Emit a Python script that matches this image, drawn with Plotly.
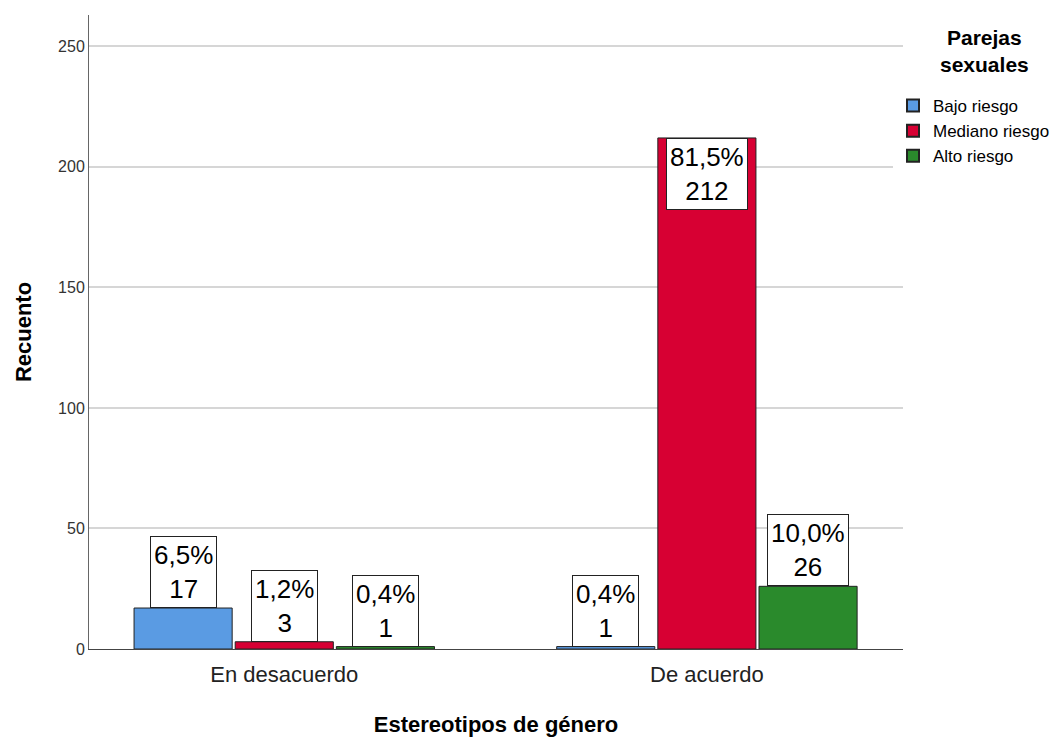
import plotly.graph_objects as go

categories = ["En desacuerdo", "De acuerdo"]
series_names = ["Bajo riesgo", "Mediano riesgo", "Alto riesgo"]
counts = {
    "Bajo riesgo": [17, 1],
    "Mediano riesgo": [3, 212],
    "Alto riesgo": [1, 26],
}
percents = {
    "Bajo riesgo": ["6,5%", "0,4%"],
    "Mediano riesgo": ["1,2%", "81,5%"],
    "Alto riesgo": ["0,4%", "10,0%"],
}
colors = {
    "Bajo riesgo": "#5A9BE3",
    "Mediano riesgo": "#D70033",
    "Alto riesgo": "#2A8A2C",
}
y_ticks = [0, 50, 100, 150, 200, 250]
legend_title = "Parejas<br>sexuales"

FONT = "Liberation Sans, Arial, sans-serif"
W, H = 1059, 738
ML, MR, MT, MB = 89, 156, 15, 89
PW, PH = W - ML - MR, H - MT - MB


def px_to_paper_x(px):
    return (px - ML) / PW


def px_to_paper_y(py):
    return (H - MB - py) / PH


bargap = 0.282
bargroupgap = 0.03
x_pos = list(range(len(categories)))

fig = go.Figure()
for name in series_names:
    fig.add_trace(go.Bar(
        x=x_pos, y=counts[name], name=name,
        marker=dict(color=colors[name], line=dict(color="#222222", width=1)),
    ))

slot = (1 - bargap) / len(series_names)
for si, name in enumerate(series_names):
    off = (si - (len(series_names) - 1) / 2) * slot
    for ci, v in enumerate(counts[name]):
        inside = v > 200
        fig.add_annotation(
            x=ci + off, y=v, xref="x", yref="y",
            text=f"{percents[name][ci]}<br>{v}",
            showarrow=False,
            yanchor="top" if inside else "bottom",
            font=dict(family=FONT, size=26, color="black"),
            bgcolor="white", bordercolor="#222222", borderwidth=1, borderpad=3,
            align="center",
        )

# legend title as a separate text block
fig.add_annotation(
    x=px_to_paper_x(984), y=px_to_paper_y(24), xref="paper", yref="paper",
    text=f"<b>{legend_title}</b>", showarrow=False,
    xanchor="center", yanchor="top", align="center",
    font=dict(family=FONT, size=21, color="black"),
)

fig.update_layout(
    width=W, height=H,
    margin=dict(l=ML, r=MR, t=MT, b=MB, autoexpand=False),
    plot_bgcolor="white", paper_bgcolor="white",
    barmode="group", bargap=bargap, bargroupgap=bargroupgap,
    font=dict(family=FONT, color="#222222"),
    showlegend=True,
    legend=dict(
        x=px_to_paper_x(893), xanchor="left", y=px_to_paper_y(88), yanchor="top",
        font=dict(family=FONT, size=17, color="black"),
        itemsizing="constant", tracegroupgap=0,
    ),
    xaxis=dict(
        tickvals=x_pos, ticktext=categories,
        range=[-0.462, 1.464],
        tickfont=dict(family=FONT, size=22, color="#222222"),
        ticklabelstandoff=6, automargin=False,
        showline=True, linecolor="#444444", linewidth=1,
        showgrid=False, zeroline=False, ticks="",
        title=dict(text="<b>Estereotipos de género</b>",
                   font=dict(family=FONT, size=22, color="black"), standoff=30),
    ),
    yaxis=dict(
        range=[0, 263], tickvals=y_ticks, automargin=False,
        tickfont=dict(family=FONT, size=16, color="#333333"),
        showline=True, linecolor="#666666", linewidth=1,
        showgrid=True, gridcolor="#D6D6D6", gridwidth=2,
        zeroline=False, ticks="", ticklen=0,
        title=dict(text="<b>Recuento</b>",
                   font=dict(family=FONT, size=22, color="black"), standoff=20),
    ),
)

fig.write_html(
    "out.html",
    config={"displayModeBar": False},
    post_script="document.body.style.margin='0';document.body.style.overflow='hidden';",
)
